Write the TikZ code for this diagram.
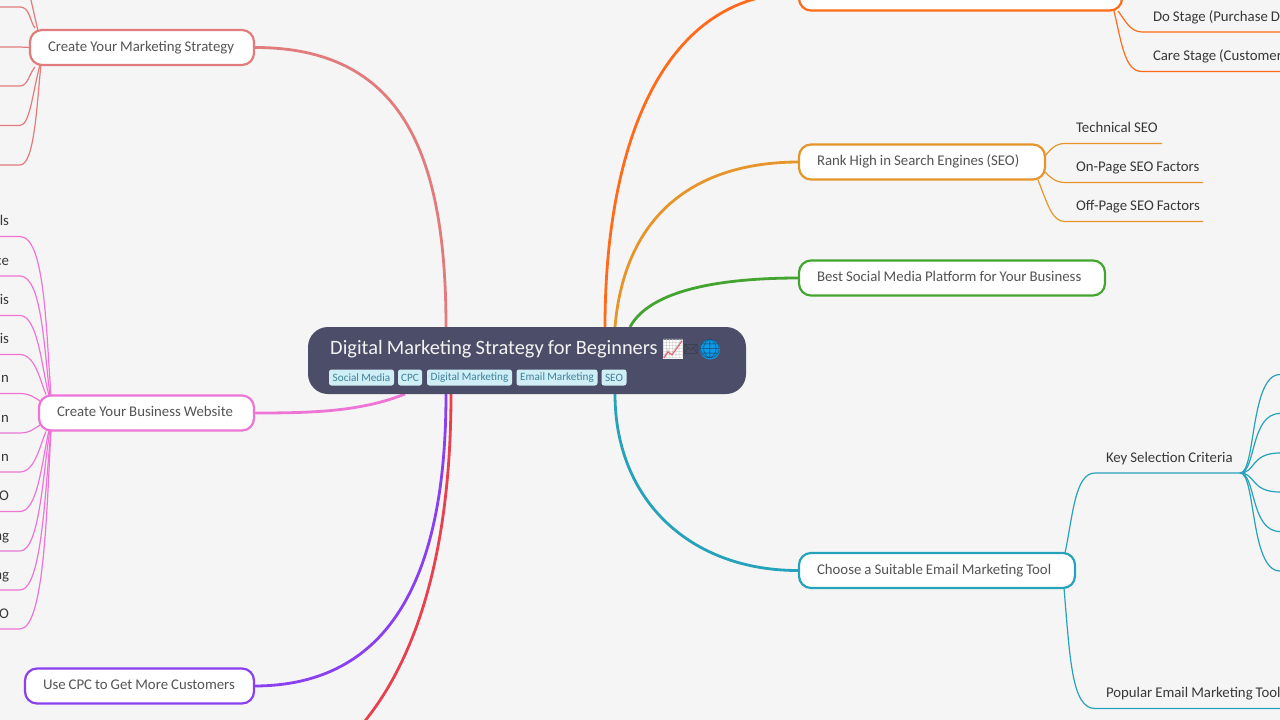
\documentclass[tikz,border=0pt]{standalone}
\usepackage{fontspec}
\usetikzlibrary{backgrounds}
\setmainfont{Carlito}[WordSpace=0.9]
\newfontfamily\emojifont{Noto Emoji}
\definecolor{bgc}{HTML}{F5F5F5}
\definecolor{rootc}{HTML}{4C4E69}
\definecolor{tagf}{HTML}{CFEEF6}
\definecolor{tagt}{HTML}{3F8299}
\definecolor{mkt}{HTML}{E27C7C}
\definecolor{web}{HTML}{EE74D5}
\definecolor{cpc}{HTML}{8A3FF0}
\definecolor{redc}{HTML}{E8404F}
\definecolor{ora}{HTML}{FF6B1A}
\definecolor{seo}{HTML}{E6952A}
\definecolor{soc}{HTML}{43A52F}
\definecolor{tea}{HTML}{27A2BB}
\definecolor{globeblue}{HTML}{0E9BE8}
\definecolor{globeline}{HTML}{14547F}
\newcommand{\leaffont}{\fontsize{14.8}{18}\selectfont}
\newcommand{\T}[1]{\rlap{\spaceskip=0pt\xspaceskip=0pt #1}}
\tikzset{
  x=1pt,y=-1pt,
  topic/.style={draw,line width=2.2pt,fill=white,rounded corners=12pt,text=black!67,inner xsep=0pt,inner ysep=0pt,outer sep=0pt,minimum height=35pt,minimum width=#1,text width=#1,text height=10pt,text depth=3pt,align=left,execute at begin node={\hspace*{18pt}},font=\leaffont},
  thick line/.style={line width=2.8pt},
  thin line/.style={line width=1.2pt},
  leafr/.style={anchor=south west,inner xsep=0pt,inner ysep=8pt,outer sep=0pt,text depth=3pt,text height=10pt,text width=#1,align=left,execute at begin node={\hspace*{11pt}},text=black!78,font=\leaffont},
  leafl/.style={anchor=south east,text width=30pt,inner xsep=11pt,inner ysep=8pt,outer sep=0pt,text depth=3pt,text height=10pt,align=right,text=black!78,font=\leaffont},
  tag/.style={fill=tagf,rounded corners=2.5pt,text=tagt,inner sep=0pt,outer sep=0pt,minimum height=16pt,minimum width=#1,font=\fontsize{11.2}{13}\selectfont},
  emoji/.style={anchor=center,inner sep=0pt,font=\emojifont\fontsize{#1}{#1}\selectfont}
}
\begin{document}
\begin{tikzpicture}
\useasboundingbox (0,0) rectangle (1280,720);
% nodes
\node[fill=rootc,rounded corners=20pt,minimum width=438pt,minimum height=67pt,inner sep=0pt,outer sep=0pt] (root) at (527,360.5) {};
\node[topic=224pt,draw=mkt] (n1) at (142,47.5) {\T{Create Your Marketing Strategy}};
\node[topic=215pt,draw=web] (n2) at (146.5,413) {\T{Create Your Business Website}};
\node[topic=229pt,draw=cpc] (n3) at (139.5,686) {\T{Use CPC to Get More Customers}};
\node[topic=323pt,draw=ora] (n4) at (960.5,-7) {};
\node[topic=246pt,draw=seo] (n5) at (922,162) {\T{Rank High in Search Engines (SEO)}};
\node[topic=306pt,draw=soc] (n6) at (952,278) {\T{Best Social Media Platform for Your Business}};
\node[topic=276pt,draw=tea] (n7) at (937,570.5) {\T{Choose a Suitable Email Marketing Tool}};
\coordinate (offred) at (350,738);
\node[anchor=base west,inner sep=0pt,text=white!95!black,font=\fontsize{20.4}{26}\selectfont] (title) at (330,354.5) {Digital Marketing Strategy for Beginners};
\fill[white] (663,340) rectangle (683,359);
\node[emoji=19,text=black!22] (chart) at (673,349.5) {📈};
\draw[redc!85,line width=1pt] (664,358) -- (668,352) -- (672,355) -- (682,341);
\node[emoji=12,text=black!80] (env) at (691,349.5) {✉};
\fill[globeblue] (710,349.5) circle (10pt);
\node[emoji=19,text=globeline] (globe) at (710,349.5) {🌐};
\node[tag=65pt] (t1) at (361.5,377.5) {Social Media};
\node[tag=24pt] (t2) at (410,377.5) {CPC};
\node[tag=85pt] (t3) at (469.5,377.5) {Digital Marketing};
\node[tag=81pt] (t4) at (557,377.5) {Email Marketing};
\node[tag=25pt] (t5) at (614,377.5) {SEO};
% right leaves
\node[leafr=97pt] (s1) at (1065,143.5) {\T{Technical SEO}};
\node[leafr=138pt] (s2) at (1065,182.5) {\T{On-Page SEO Factors}};
\node[leafr=138pt] (s3) at (1065,221.5) {\T{Off-Page SEO Factors}};
\node[leafr=150pt] (d1) at (1142,32) {\T{Do Stage (Purchase D}};
\node[leafr=150pt] (d2) at (1142,71.5) {\T{Care Stage (Customer}};
\node[leafr=145pt] (k) at (1095,473) {\T{Key Selection Criteria}};
\node[leafr=190pt] (p) at (1095,708.5) {\T{Popular Email Marketing Tool}};
% left leaves
\foreach \nm/\y/\t in {a/7/,b/47/,c/86/,d/125.5/,e/165/}{
  \node[leafl] (\nm) at (20,\y) {\t};
}
\foreach \nm/\y/\t in {l1/236.5/ls,l2/276/ce,l3/315.5/is,l4/354.5/is,l5/393.5/n,l6/433/n,l7/472/n,l8/511.5/O,l9/551/ng,l10/590/ng,l11/629/O}{
  \node[leafl] (\nm) at (20,\y) {\t};
}
\coordinate (a0) at (31,0);
\begin{pgfonlayer}{background}
\fill[bgc] (0,0) rectangle (1280,720);
% thick connectors
\draw[thick line,mkt] ([xshift=-81pt]root.north) .. controls (446,150) and (400,47) .. (n1.east);
\draw[thick line,web] ([xshift=-122pt]root.south) .. controls (360,412) and (310,413) .. (n2.east);
\draw[thick line,cpc] ([xshift=-81pt]root.south) .. controls (446,560) and (400,686) .. (n3.east);
\draw[thick line,redc] ([xshift=-76pt]root.south) .. controls (451,530) and (425,660) .. (offred);
\draw[thick line,ora] ([xshift=78pt]root.north) .. controls (605,150) and (660,-7) .. (n4.west);
\draw[thick line,seo] ([xshift=88pt]root.north) .. controls (625,210) and (700,162) .. (n5.west);
\draw[thick line,soc] ([xshift=103pt]root.north) .. controls (650,290) and (720,278) .. (n6.west);
\draw[thick line,tea] ([xshift=88pt]root.south) .. controls (615,500) and (690,571) .. (n7.west);
% thin connectors
\begin{scope}[thin line,seo]
\draw ([yshift=6pt]n5.east) .. controls (1050,150) and (1055,143.5) .. (s1.south west) -- (s1.south east);
\draw ([yshift=-10pt]n5.east) .. controls (1050,177) and (1055,182.5) .. (s2.south west) -- (s2.south east);
\draw ([xshift=-7pt,yshift=-18pt]n5.east) .. controls (1048,205) and (1052,221.5) .. (s3.south west) -- (s3.south east);
\end{scope}
\begin{scope}[thin line,ora]
\draw ([xshift=-4pt,yshift=-18pt]n4.east) .. controls (1125,20) and (1130,32) .. (d1.south west) -- (d1.south east);
\draw ([xshift=-8pt,yshift=-18pt]n4.east) .. controls (1122,45) and (1125,71.5) .. (d2.south west) -- (d2.south east);
\end{scope}
\begin{scope}[thin line,tea]
\draw ([xshift=-10pt,yshift=17.5pt]n7.east) .. controls (1073,515) and (1075,473) .. (k.south west) -- (k.south east);
\draw ([xshift=-11pt,yshift=-17.5pt]n7.east) .. controls (1070,660) and (1072,708.5) .. (p.south west) -- (p.south east);
\foreach \y in {374.5,413.5,453,492,531.5,571}{
  \draw (k.south east) .. controls (1256,473) and (1250,\y) .. (1280,\y);
}
\end{scope}
\begin{scope}[thin line,mkt]
\draw (a0) -- ([xshift=8pt,yshift=-1pt]n1.north west);
\draw (a.south west) -- (a.south east) .. controls (30,7) and (30,22) .. ([xshift=5pt,yshift=2pt]n1.north west);
\draw (b.south west) -- (b.south east) -- (n1.west);
\draw (c.south west) -- (c.south east) .. controls (28,86) and (30,72) .. ([xshift=5pt,yshift=-2pt]n1.south west);
\draw (d.south west) -- (d.south east) .. controls (30,125.5) and (33,90) .. ([xshift=10pt]n1.south west);
\draw (e.south west) -- (e.south east) .. controls (35,165) and (37,100) .. ([xshift=11pt]n1.south west);
\end{scope}
\begin{scope}[thin line,web]
\draw (l1.south west) -- (l1.south east) .. controls (45,236.5) and (46,330) .. ([xshift=12pt]n2.north west);
\draw (l2.south west) -- (l2.south east) .. controls (42,276) and (44,350) .. ([xshift=11pt]n2.north west);
\draw (l3.south west) -- (l3.south east) .. controls (38,315.5) and (42,370) .. ([xshift=10pt]n2.north west);
\draw (l4.south west) -- (l4.south east) .. controls (35,354.5) and (40,380) .. ([xshift=7pt,yshift=1pt]n2.north west);
\draw (l5.south west) -- (l5.south east) .. controls (30,393.5) and (35,398) .. ([xshift=2pt,yshift=-6pt]n2.north west);
\draw (l6.south west) -- (l6.south east) .. controls (30,433) and (35,428) .. ([xshift=2pt,yshift=6pt]n2.south west);
\draw (l7.south west) -- (l7.south east) .. controls (35,472) and (40,445) .. ([xshift=7pt,yshift=-1pt]n2.south west);
\draw (l8.south west) -- (l8.south east) .. controls (38,511.5) and (42,460) .. ([xshift=10pt]n2.south west);
\draw (l9.south west) -- (l9.south east) .. controls (40,551) and (43,470) .. ([xshift=11pt]n2.south west);
\draw (l10.south west) -- (l10.south east) .. controls (42,590) and (45,490) .. ([xshift=12pt]n2.south west);
\draw (l11.south west) -- (l11.south east) .. controls (45,629) and (47,500) .. ([xshift=12pt]n2.south west);
\end{scope}
\end{pgfonlayer}
\end{tikzpicture}
\end{document}
